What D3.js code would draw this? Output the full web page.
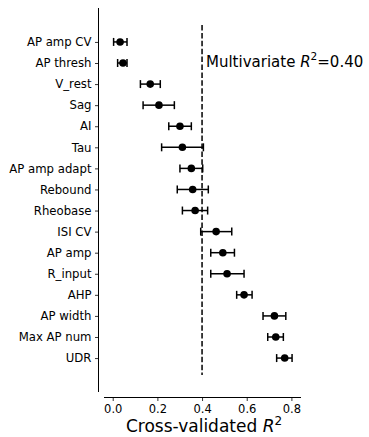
<!DOCTYPE html>
<html><head><meta charset="utf-8">
<script src="https://cdn.jsdelivr.net/npm/d3@7"></script>
<style>body{margin:0;background:#fff}svg{display:block}text{font-family:"DejaVu Sans",sans-serif;fill:#000}</style>
</head><body>
<svg id="c" width="369" height="437"></svg>
<script>
const features = ["AP amp CV","AP thresh","V_rest","Sag","AI","Tau","AP amp adapt","Rebound","Rheobase","ISI CV","AP amp","R_input","AHP","AP width","Max AP num","UDR"];
const r2Mean  = [0.033,0.046,0.168,0.207,0.301,0.312,0.352,0.358,0.369,0.463,0.493,0.512,0.588,0.724,0.730,0.770];
const r2Low   = [0.004,0.022,0.124,0.136,0.251,0.219,0.301,0.289,0.312,0.394,0.439,0.439,0.555,0.673,0.694,0.734];
const r2High  = [0.064,0.064,0.213,0.276,0.352,0.406,0.403,0.428,0.425,0.533,0.545,0.588,0.624,0.775,0.764,0.803];
const multivariateR2 = 0.40;
const xTicks = [0.0,0.2,0.4,0.6,0.8];

const svg = d3.select("#c");
const x = d3.scaleLinear().domain([-0.039,0.843]).range([104,301]);
const y = d3.scalePoint().domain(features).range([8,392]).padding(1.61);

// left axis
const gy = svg.append("g").attr("transform","translate(98.5,0)")
  .call(d3.axisLeft(y).tickSize(3.5).tickPadding(3.5));
gy.select(".domain").attr("d","M0,8V392").attr("stroke","#000").attr("stroke-width",1);
gy.selectAll(".tick line").attr("stroke","#000").attr("stroke-width",0.8);
gy.selectAll(".tick text").attr("font-size","11.7px").attr("fill","#000").attr("font-family","DejaVu Sans");

// bottom axis
const gx = svg.append("g").attr("transform","translate(0,397.5)")
  .call(d3.axisBottom(x).tickValues(xTicks).tickFormat(d3.format(".1f")).tickSize(3.5).tickPadding(3.5));
gx.select(".domain").attr("d","M104,0H301").attr("stroke","#000").attr("stroke-width",1);
gx.selectAll(".tick line").attr("stroke","#000").attr("stroke-width",0.8);
gx.selectAll(".tick text").attr("font-size","11.5px").attr("fill","#000").attr("font-family","DejaVu Sans");

// x label
const xl = svg.append("text").attr("x",204).attr("y",432).attr("text-anchor","middle").attr("font-size","17px");
xl.append("tspan").text("Cross-validated ");
xl.append("tspan").attr("font-style","italic").text("R");
xl.append("tspan").attr("font-size","12px").attr("dy",-7).text("2");

// dashed line
svg.append("line").attr("x1",x(multivariateR2)).attr("x2",x(multivariateR2))
  .attr("y1",25).attr("y2",375).attr("stroke","#000").attr("stroke-width",1.5)
  .attr("stroke-dasharray","5.5,2.4");

// annotation
const an = svg.append("text").attr("x",206).attr("y",66.5).attr("font-size","15px");
an.append("tspan").text("Multivariate ");
an.append("tspan").attr("font-style","italic").text("R");
an.append("tspan").attr("font-size","10.5px").attr("dy",-6.5).text("2");
an.append("tspan").attr("dy",6.5).text("=" + multivariateR2.toFixed(2));

// error bars
const g = svg.append("g");
features.forEach((f,i)=>{
  const yy = y(f);
  g.append("line").attr("x1",x(r2Low[i])).attr("x2",x(r2High[i])).attr("y1",yy).attr("y2",yy).attr("stroke","#000").attr("stroke-width",1.5);
  [r2Low[i], r2High[i]].forEach(v=>{
    g.append("line").attr("x1",x(v)).attr("x2",x(v)).attr("y1",yy-4).attr("y2",yy+4).attr("stroke","#000").attr("stroke-width",1.5);
  });
  g.append("circle").attr("cx",x(r2Mean[i])).attr("cy",yy).attr("r",3.8).attr("fill","#000");
});
</script>
</body></html>
